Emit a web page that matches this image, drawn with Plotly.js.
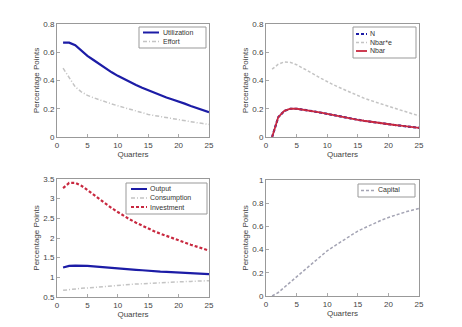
<!DOCTYPE html>
<html><head><meta charset="utf-8">
<script src="https://cdn.plot.ly/plotly-3.0.1.min.js"></script>
<style>body{margin:0;background:#fff}#c{width:462px;height:327px}</style>
</head><body><div id="c"></div>
<script>
const quarters = [1,2,3,4,5,6,7,8,9,10,11,12,13,14,15,16,17,18,19,20,21,22,23,24,25];
const utilization = [0.668,0.668,0.65,0.61,0.575,0.545,0.515,0.485,0.458,0.433,0.41,0.388,0.368,0.348,0.33,0.313,0.296,0.28,0.265,0.252,0.236,0.22,0.205,0.19,0.175];
const effort = [0.487,0.42,0.355,0.32,0.295,0.278,0.262,0.248,0.234,0.221,0.208,0.196,0.184,0.172,0.16,0.152,0.144,0.136,0.129,0.122,0.115,0.108,0.101,0.095,0.089];
const nSeries = [0,0.14,0.185,0.2,0.2,0.195,0.188,0.18,0.172,0.163,0.155,0.146,0.138,0.13,0.122,0.115,0.108,0.102,0.096,0.09,0.085,0.08,0.075,0.07,0.065];
const nbarE = [0.48,0.515,0.532,0.528,0.512,0.49,0.465,0.44,0.415,0.39,0.37,0.35,0.33,0.31,0.29,0.275,0.26,0.245,0.23,0.217,0.203,0.19,0.177,0.164,0.15];
const nbar = [0,0.14,0.185,0.2,0.2,0.195,0.188,0.18,0.172,0.163,0.155,0.146,0.138,0.13,0.122,0.115,0.108,0.102,0.096,0.09,0.085,0.08,0.075,0.07,0.065];
const output = [1.25,1.29,1.3,1.3,1.29,1.28,1.265,1.25,1.24,1.225,1.21,1.2,1.19,1.18,1.165,1.155,1.145,1.14,1.13,1.12,1.11,1.105,1.095,1.09,1.08];
const consumption = [0.67,0.69,0.705,0.72,0.73,0.745,0.76,0.775,0.787,0.8,0.81,0.82,0.83,0.84,0.85,0.857,0.864,0.871,0.878,0.885,0.891,0.897,0.903,0.909,0.915];
const investment = [3.27,3.4,3.4,3.33,3.22,3.1,2.98,2.87,2.76,2.66,2.56,2.47,2.39,2.31,2.24,2.17,2.11,2.05,1.99,1.94,1.88,1.83,1.78,1.73,1.68];
const capital = [0,0.03,0.075,0.12,0.168,0.215,0.26,0.305,0.35,0.39,0.425,0.46,0.495,0.53,0.56,0.585,0.61,0.635,0.657,0.677,0.695,0.712,0.728,0.742,0.755];

const blue = '#1c1ca6', gray = '#c4c4c4', red = '#c8283f', capGray = '#a4a4b4';
const DASH = '3px,2px', DASHDOT = '4px,2px,1px,2px';
function tr(y, name, color, dash, width, xa, ya){
  return {x: quarters, y: y, name: name, type: 'scatter', mode: 'lines', showlegend: false,
    line: {color: color, dash: dash, width: width}, xaxis: xa, yaxis: ya};
}
const data = [
  tr(utilization,'Utilization',blue,'solid',2.2,'x','y'),
  tr(effort,'Effort',gray,DASHDOT,1.5,'x','y'),
  tr(nSeries,'N',blue,DASH,2.2,'x2','y2'),
  tr(nbarE,'Nbar*e',gray,DASH,1.5,'x2','y2'),
  tr(nbar,'Nbar',red,'solid',1.8,'x2','y2'),
  tr(output,'Output',blue,'solid',2.2,'x3','y3'),
  tr(consumption,'Consumption',gray,DASHDOT,1.5,'x3','y3'),
  tr(investment,'Investment',red,DASH,2.2,'x3','y3'),
  tr(capital,'Capital',capGray,DASH,1.5,'x4','y4')
];
const W = 462, H = 327;
const font = {family: 'Liberation Sans, Arial, sans-serif', size: 8, color: '#444'};
function xax(l, r, anchor){
  return {domain: [l/W, r/W], range: [0,25], tickvals: [0,5,10,15,20,25], anchor: anchor,
    showgrid: false, zeroline: false, showline: true, mirror: true, linecolor: '#999', linewidth: 1,
    ticks: 'inside', ticklen: 3, tickcolor: '#aaa', tickfont: font,
    title: {text: 'Quarters', font: font, standoff: 2}};
}
function yax(t, b, range, dtick, anchor){
  return {domain: [1 - b/H, 1 - t/H], range: range, dtick: dtick, anchor: anchor,
    showgrid: false, zeroline: false, showline: true, mirror: true, linecolor: '#999', linewidth: 1,
    ticks: 'inside', ticklen: 3, tickcolor: '#aaa', tickfont: font,
    title: {text: 'Percentage Points', font: font, standoff: 2}};
}
// custom compact legends (MATLAB style)
const shapes = [], annotations = [];
const legFont = {family: font.family, size: 7, color: '#333'};
function legend(box, items){
  shapes.push({type: 'rect', xref: 'paper', yref: 'paper', x0: box[0]/W, x1: box[1]/W,
    y0: 1 - box[3]/H, y1: 1 - box[2]/H, line: {color: '#999', width: 1}, fillcolor: '#fff', layer: 'above'});
  items.forEach(it => {
    shapes.push({type: 'line', xref: 'paper', yref: 'paper', x0: it.sx0/W, x1: it.sx1/W,
      y0: 1 - it.y/H, y1: 1 - it.y/H, line: {color: it.color, width: it.width, dash: it.dash}, layer: 'above'});
    annotations.push({xref: 'paper', yref: 'paper', x: it.tx/W, y: 1 - it.y/H, xanchor: 'left', yanchor: 'middle',
      text: it.text, showarrow: false, font: legFont});
  });
}
legend([139, 206, 27, 48], [
  {text: 'Utilization', color: blue, width: 2, dash: 'solid', sx0: 143, sx1: 159, tx: 161, y: 32.5},
  {text: 'Effort', color: gray, width: 1.5, dash: DASHDOT, sx0: 143, sx1: 159, tx: 161, y: 41.5}]);
legend([353, 416, 27, 58], [
  {text: 'N', color: blue, width: 2, dash: DASH, sx0: 356, sx1: 367, tx: 368, y: 34},
  {text: 'Nbar*e', color: gray, width: 1.5, dash: DASH, sx0: 356, sx1: 367, tx: 368, y: 42.5},
  {text: 'Nbar', color: red, width: 1.8, dash: 'solid', sx0: 356, sx1: 367, tx: 368, y: 51}]);
legend([126, 207, 183, 214], [
  {text: 'Output', color: blue, width: 2, dash: 'solid', sx0: 131, sx1: 147, tx: 148, y: 189},
  {text: 'Consumption', color: gray, width: 1.5, dash: DASHDOT, sx0: 131, sx1: 147, tx: 148, y: 198},
  {text: 'Investment', color: red, width: 2, dash: DASH, sx0: 131, sx1: 147, tx: 148, y: 207}]);
legend([358, 415, 184, 197], [
  {text: 'Capital', color: capGray, width: 1.5, dash: DASH, sx0: 361, sx1: 374, tx: 376, y: 190.5}]);

const layout = {
  width: W, height: H, margin: {l: 0, r: 0, t: 0, b: 0}, paper_bgcolor: '#fff', plot_bgcolor: '#fff',
  showlegend: false,
  xaxis: xax(57, 209, 'y'), yaxis: yax(24, 137, [0,0.8], 0.2, 'x'),
  xaxis2: xax(266, 419, 'y2'), yaxis2: yax(24, 137, [0,0.8], 0.2, 'x2'),
  xaxis3: xax(57, 209, 'y3'), yaxis3: yax(179, 297, [0.5,3.5], 0.5, 'x3'),
  xaxis4: xax(266, 419, 'y4'), yaxis4: yax(180, 296, [0,1], 0.2, 'x4'),
  shapes: shapes, annotations: annotations
};
Plotly.newPlot('c', data, layout, {displayModeBar: false, staticPlot: true});
</script></body></html>
